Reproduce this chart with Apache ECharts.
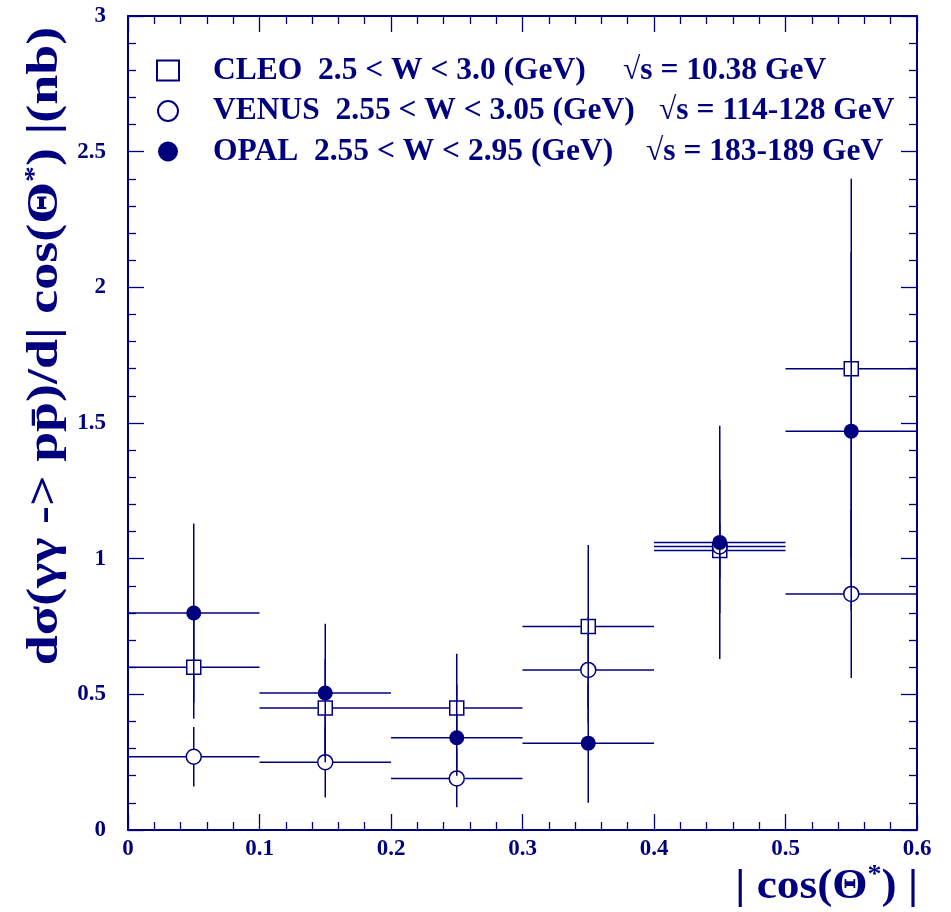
<!DOCTYPE html>
<html>
<head>
<meta charset="utf-8">
<script src="https://cdn.jsdelivr.net/npm/echarts@6/dist/echarts.min.js"></script>
<style>
  html, body { margin: 0; padding: 0; background: #ffffff; }
  #chart { width: 951px; height: 912px; }
</style>
</head>
<body>
<div id="chart"></div>
<script>
// Bins in |cos(theta*)|
const binLow  = [0.0, 0.1, 0.2, 0.3, 0.4, 0.5];
const binHigh = [0.1, 0.2, 0.3, 0.4, 0.5, 0.6];
const binCenter = [0.05, 0.15, 0.25, 0.35, 0.45, 0.55];

// CLEO  2.5 < W < 3.0 GeV
const cleoY  = [0.60, 0.45, 0.45, 0.75, 1.03, 1.70];
const cleoLo = [0.41, 0.27, 0.365, 0.45, 0.93, 1.00];
const cleoHi = [0.79, 0.63, 0.535, 1.05, 1.13, 2.40];

// VENUS 2.55 < W < 3.05 GeV
const venusY  = [0.27, 0.25, 0.19, 0.59, 1.045, 0.87];
const venusLo = [0.16, 0.12, 0.084, 0.395, 0.80, 0.56];
const venusHi = [0.38, 0.38, 0.30, 0.785, 1.29, 1.18];

// OPAL 2.55 < W < 2.95 GeV
const opalY  = [0.80, 0.505, 0.34, 0.32, 1.06, 1.47];
const opalLo = [0.47, 0.25, 0.20, 0.10, 0.63, 0.81];
const opalHi = [1.13, 0.76, 0.65, 0.54, 1.49, 2.13];

// Axis ticks
const xTicks = [0, 0.1, 0.2, 0.3, 0.4, 0.5, 0.6];
const yTicks = [0, 0.5, 1, 1.5, 2, 2.5, 3];

// Legend text
const expNames = ['CLEO', 'VENUS', 'OPAL'];
const rangeLabels = ['CLEO  2.5 < W < 3.0 (GeV)', 'VENUS  2.55 < W < 3.05 (GeV)', 'OPAL  2.55 < W < 2.95 (GeV)'];
const energyLabels = ['√s = 10.38 GeV', '√s = 114-128 GeV', '√s = 183-189 GeV'];

const NAVY = '#00007f';
const FONT = 'Liberation Serif';

function rows(ys, los, his) {
  return ys.map((y, i) => [binCenter[i], y, los[i], his[i], binLow[i], binHigh[i]]);
}

// Error bars that stop at the edge of the hollow marker they belong to
function errorBars(gap) {
  return function (params, api) {
    const x = api.value(0), y = api.value(1);
    const c = api.coord([x, y]);
    const l = api.coord([api.value(4), y]);
    const r = api.coord([api.value(5), y]);
    const lo = api.coord([x, api.value(2)]);
    const hi = api.coord([x, api.value(3)]);
    const style = { stroke: NAVY, lineWidth: 1.5 };
    const seg = (x1, y1, x2, y2) => ({ type: 'line', shape: { x1, y1, x2, y2 }, style });
    return {
      type: 'group',
      children: [
        seg(l[0], c[1], c[0] - gap, c[1]),
        seg(c[0] + gap, c[1], r[0], c[1]),
        seg(c[0], hi[1], c[0], c[1] - gap),
        seg(c[0], c[1] + gap, c[0], lo[1])
      ]
    };
  };
}

function errSeries(name, data, gap) {
  return {
    name: name + ' errors',
    type: 'custom',
    xAxisIndex: 0, yAxisIndex: 0,
    renderItem: errorBars(gap),
    encode: { x: 0, y: 1 },
    data: data,
    z: 2,
    silent: true
  };
}

function markerSeries(name, data, symbol, size, filled) {
  return {
    name: name,
    type: 'scatter',
    xAxisIndex: 0, yAxisIndex: 0,
    symbol: symbol,
    symbolSize: size,
    data: data.map(d => [d[0], d[1]]),
    itemStyle: filled
      ? { color: NAVY, borderColor: NAVY, borderWidth: 0, opacity: 1 }
      : { color: 'rgba(255,255,255,0)', borderColor: NAVY, borderWidth: 1.5, opacity: 1 },
    z: 5,
    silent: true
  };
}

const cleoData = rows(cleoY, cleoLo, cleoHi);
const venusData = rows(venusY, venusLo, venusHi);
const opalData = rows(opalY, opalLo, opalHi);

const tickFont = { fontFamily: FONT, fontWeight: 'bold', fontSize: 23, color: NAVY };

function xAxisDef(pos, labels) {
  return {
    type: 'value', position: pos, min: 0, max: 0.6, interval: 0.1,
    axisLine: { show: true, onZero: false, lineStyle: { color: NAVY, width: 2 } },
    axisTick: { show: true, inside: true, length: 16, lineStyle: { color: NAVY, width: 1.3 } },
    minorTick: { show: true, splitNumber: 5, length: 8, lineStyle: { color: NAVY, width: 1.3 } },
    splitLine: { show: false },
    axisLabel: labels ? Object.assign({ show: true, margin: 8, formatter: v => {
      const t = xTicks.find(k => Math.abs(k - v) < 1e-9);
      return t === 0 ? '0' : t.toFixed(1);
    } }, tickFont) : { show: false }
  };
}
function yAxisDef(pos, labels) {
  return {
    type: 'value', position: pos, min: 0, max: 3, interval: 0.5,
    axisLine: { show: true, onZero: false, lineStyle: { color: NAVY, width: 2 } },
    axisTick: { show: true, inside: true, length: 16, lineStyle: { color: NAVY, width: 1.3 } },
    minorTick: { show: true, splitNumber: 5, length: 8, lineStyle: { color: NAVY, width: 1.3 } },
    splitLine: { show: false },
    axisLabel: labels ? Object.assign({ show: true, margin: 22, formatter: v => {
      const t = yTicks.find(k => Math.abs(k - v) < 1e-9);
      return String(t);
    } }, tickFont) : { show: false }
  };
}

const LEGEND_SIZE = 31.5;
const legendRich = {};
rangeLabels.forEach((t, i) => {
  legendRich['a' + i] = { fontFamily: FONT, fontWeight: 'bold', fontSize: LEGEND_SIZE, color: NAVY, width: [410, 446, 433][i], padding: [0, 0, 0, 29] };
});
legendRich.b = { fontFamily: FONT, fontWeight: 'bold', fontSize: LEGEND_SIZE, color: NAVY };

const option = {
  backgroundColor: '#ffffff',
  animation: false,
  grid: { left: 128, right: 34, top: 16, bottom: 82, containLabel: false },
  xAxis: [xAxisDef('bottom', true), xAxisDef('top', false)],
  yAxis: [yAxisDef('left', true), yAxisDef('right', false)],
  legend: {
    data: expNames,
    orient: 'vertical',
    left: 151, top: 46,
    itemWidth: 22, itemHeight: 20, itemGap: 1.5,
    selectedMode: false,
    formatter: name => {
      const i = expNames.indexOf(name);
      return '{a' + i + '|' + rangeLabels[i] + '}{b|' + energyLabels[i] + '}';
    },
    textStyle: { fontFamily: FONT, fontWeight: 'bold', fontSize: LEGEND_SIZE, color: NAVY, lineHeight: 39, rich: legendRich }
  },
  series: [
    errSeries('VENUS', venusData, 7.5),
    errSeries('CLEO', cleoData, 7.5),
    errSeries('OPAL', opalData, 0),
    markerSeries('CLEO', cleoData, 'rect', 14, false),
    markerSeries('VENUS', venusData, 'circle', 15, false),
    markerSeries('OPAL', opalData, 'circle', 15, true)
  ],
  graphic: [
    {
      type: 'text', x: 46, y: 346, rotation: Math.PI / 2, scaleX: 1.225,
      style: {
        text: 'dσ(γγ -> pp\u0304)/d| cos(Θ{s|*}) |(nb)',
        fontFamily: FONT, fontWeight: 'bold', fontSize: 44, fill: NAVY,
        align: 'center', verticalAlign: 'middle',
        rich: { s: { fontFamily: FONT, fontWeight: 'bold', fontSize: 26, fill: NAVY, padding: [0, 0, 22, 0] } }
      }
    },
    {
      type: 'text', x: 918, y: 887, scaleX: 1.08,
      style: {
        text: '| cos(Θ{s|*}) |',
        fontFamily: FONT, fontWeight: 'bold', fontSize: 42, fill: NAVY,
        align: 'right', verticalAlign: 'middle',
        rich: { s: { fontFamily: FONT, fontWeight: 'bold', fontSize: 26, fill: NAVY, padding: [0, 0, 24, 0] } }
      }
    }
  ]
};

const chart = echarts.init(document.getElementById('chart'), null, { renderer: 'canvas' });
chart.setOption(option);
</script>
</body>
</html>
